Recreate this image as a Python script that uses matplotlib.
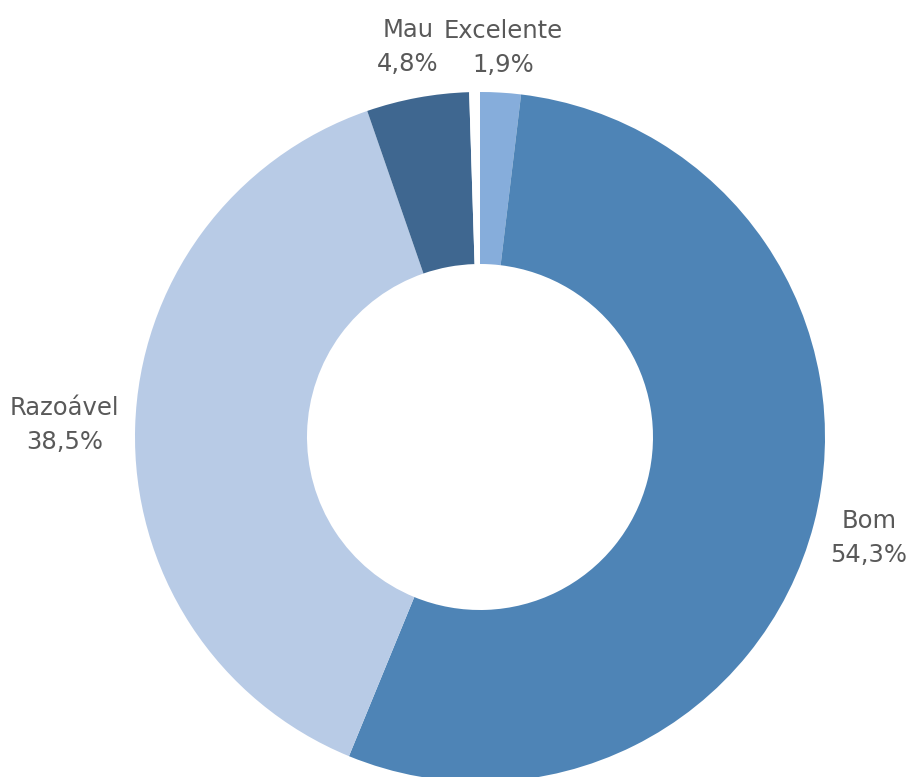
import numpy as np
import matplotlib
matplotlib.use("Agg")
import matplotlib.pyplot as plt

# Ratings share (%), drawn clockwise from 12 o'clock
categories = ["Excelente", "Bom", "Razoável", "Mau", ""]
shares = [1.9, 54.3, 38.5, 4.8, 0.5]
pct_labels = ["1,9%", "54,3%", "38,5%", "4,8%", ""]
colors = ["#86ADDB", "#4E84B6", "#B8CBE6", "#3F6790", "#FFFFFF"]
label_radius = [1.13, 1.165, 1.205, 1.15, 1.0]

W, H = 911, 777
fig = plt.figure(figsize=(W / 100, H / 100), dpi=100)
ax = fig.add_axes([0, 0, 1, 1])

cx, cy = 480, H - 437
R = 345
ring = 172

wedges, _ = ax.pie(
    shares,
    colors=colors,
    startangle=90,
    counterclock=False,
    radius=R,
    center=(cx, cy),
    wedgeprops=dict(width=ring, edgecolor="none", linewidth=0),
    frame=True,
)
ax.set_xlim(0, W)
ax.set_ylim(0, H)
ax.set_aspect("equal")
ax.axis("off")

for w, name, pct, lr in zip(wedges, categories, pct_labels, label_radius):
    if not name:
        continue
    mid = np.deg2rad((w.theta1 + w.theta2) / 2)
    x = cx + R * lr * np.cos(mid)
    y = cy + R * lr * np.sin(mid)
    ax.text(x, y, f"{name}\n{pct}", ha="center", va="center",
            multialignment="center", fontsize=17.5, color="#595959",
            linespacing=1.55)

fig.savefig("out.png", dpi=100)
